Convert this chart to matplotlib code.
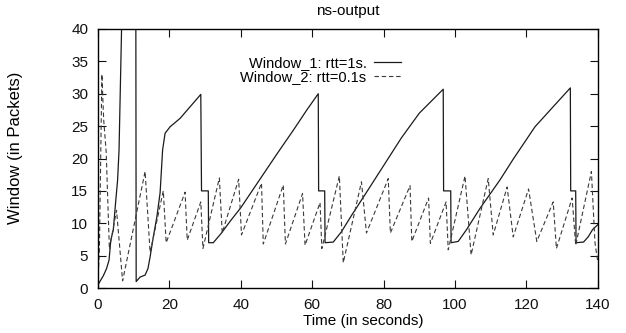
import matplotlib
matplotlib.use("Agg")
import matplotlib.pyplot as plt

plt.rcParams['font.family'] = ['Liberation Sans', 'DejaVu Sans']

# Congestion window of the flow with rtt = 1 s (time in s, window in packets)
w1_time = [0, 1.5, 2.4, 3.1, 3.6, 4.3, 5.0, 5.5, 5.9, 6.8, 10.6, 10.7,
           11.8, 13.2, 14.0, 14.6, 15.5, 16.5, 17.4, 18.1, 18.8, 20.2, 23.0,
           28.8, 29.0, 30.9, 31.0, 32.3, 34.6, 37.0, 40.0, 45.0, 50.0, 55.0,
           58.5, 61.7, 61.8, 63.5, 63.6, 65.9, 68.2, 71.0, 75.0, 80.0, 85.0,
           90.0, 96.7, 96.8, 98.8, 98.9, 100.9, 103.2, 107.0, 112.6, 116.3,
           122.4, 128.0, 132.3, 132.4, 133.8, 133.9, 136.0, 137.3, 138.5,
           140.0]
w1_window = [0.5, 1.9, 3.0, 4.3, 7.4, 9.0, 13.6, 16.7, 21.3, 45.0, 45.0, 1.0,
             1.7, 2.0, 3.0, 4.8, 7.9, 11.0, 14.7, 21.3, 23.9, 24.9, 26.2,
             29.9, 15.0, 15.0, 7.0, 7.0, 8.5, 10.3, 12.4, 16.5, 20.6, 24.6,
             27.5, 30.0, 15.0, 15.0, 7.0, 7.1, 8.7, 11.2, 14.6, 18.9, 23.2,
             27.0, 30.7, 15.0, 15.0, 7.0, 7.2, 9.0, 12.3, 16.7, 19.9,
             24.9, 28.3, 30.9, 15.0, 15.0, 7.0, 7.1, 7.9, 9.0,
             9.8]

# Congestion window of the flow with rtt = 0.1 s
w2_time = [0, 0.4, 1.1, 1.6, 2.3, 3.2, 5.2, 6.9, 13.2, 14.6, 18.3, 19.1,
           24.4, 25.0, 28.8, 29.4, 34.0, 34.8, 39.4, 40.2, 45.8, 46.3, 51.9,
           52.5, 57.3, 58.0, 62.2, 62.7, 67.6, 68.7, 73.8, 75.2, 81.3, 81.9,
           87.4, 87.9, 92.6, 93.1, 97.5, 98.1, 102.8, 104.5, 109.3, 110.7,
           114.6, 116.3, 120.6, 122.9, 127.5, 128.4, 132.8, 133.8, 138.2,
           139.2, 140.0]
w2_window = [1.0, 6.0, 33.0, 26.0, 21.0, 6.0, 12.0, 1.1, 18.0, 5.5, 15.0, 7.0,
             14.8, 7.4, 13.3, 6.1, 17.0, 8.5, 16.8, 8.2, 16.2, 6.8, 15.9,
             6.8, 14.6, 6.6, 13.2, 6.1, 17.3, 3.9, 16.4, 8.5, 16.9, 8.5,
             15.8, 7.2, 13.9, 6.9, 13.3, 5.9, 17.3, 5.1, 16.9, 8.2,
             15.6, 7.9, 15.3, 7.2, 13.3, 6.1, 13.9, 6.6, 18.0,
             7.0, 4.0]

x_ticks = list(range(0, 141, 20))
y_ticks = list(range(0, 41, 5))

fig = plt.figure(figsize=(6.26, 3.33), dpi=100)
ax = fig.add_axes([0.1565, 0.135, 0.7985, 0.778])

ax.plot(w1_time, w1_window, color='#1a1a1a', lw=0.9,
        label='Window_1: rtt=1s.')
ax.plot(w2_time, w2_window, color='#3a3a3a', lw=0.8,
        linestyle=(0, (4, 2.5)), label='Window_2: rtt=0.1s')

ax.set_xlim(0, 140)
ax.set_ylim(0, 40)
ax.set_xticks(x_ticks)
ax.set_yticks(y_ticks)
ax.tick_params(direction='in', top=True, right=True, length=6, width=0.8,
               labelsize=11, pad=7, colors='#111111')
for sp in ax.spines.values():
    sp.set_linewidth(1.0)

ax.set_title('ns-output', fontsize=11, pad=10)
ax.set_xlabel('Time (in seconds)', fontsize=11)
ax.xaxis.set_label_coords(0.53, -0.1)
ax.set_ylabel('Window (in Packets)', fontsize=12)
ax.yaxis.set_label_coords(-0.15, 0.54)

ax.legend(loc='upper right', bbox_to_anchor=(0.607, 0.895), frameon=False,
          markerfirst=False, fontsize=10.5, handlelength=1.9,
          handletextpad=0.5, labelspacing=0.0, borderpad=0,
          borderaxespad=0)

fig.savefig('out.png', dpi=100)
